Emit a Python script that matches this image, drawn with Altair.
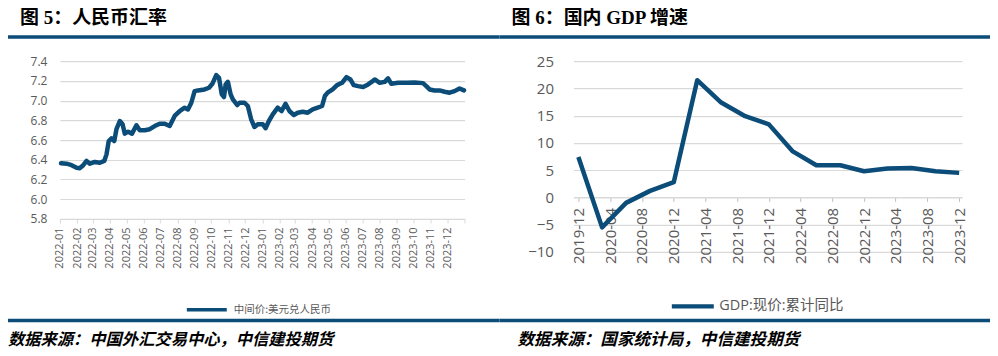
import altair as alt
import pandas as pd

# ---------------- data ----------------
fx_dates = [
    "2022-01-03", "2022-01-13", "2022-01-22", "2022-01-31", "2022-02-06", "2022-02-12",
    "2022-02-18", "2022-02-24", "2022-03-05", "2022-03-14", "2022-03-22", "2022-03-26",
    "2022-03-30", "2022-04-04", "2022-04-09", "2022-04-13", "2022-04-19", "2022-04-24",
    "2022-04-28", "2022-05-04", "2022-05-11", "2022-05-19", "2022-05-25", "2022-06-03",
    "2022-06-12", "2022-06-21", "2022-06-30", "2022-07-09", "2022-07-18", "2022-07-27",
    "2022-08-05", "2022-08-14", "2022-08-20", "2022-08-26", "2022-09-01", "2022-09-07",
    "2022-09-19", "2022-09-27", "2022-10-03", "2022-10-10", "2022-10-15", "2022-10-20",
    "2022-10-24", "2022-10-27", "2022-10-31", "2022-11-05", "2022-11-09", "2022-11-17",
    "2022-11-21", "2022-11-30", "2022-12-06", "2022-12-12", "2022-12-18", "2022-12-24",
    "2023-01-02", "2023-01-07", "2023-01-13", "2023-01-20", "2023-01-29", "2023-02-05",
    "2023-02-12", "2023-02-19", "2023-02-27", "2023-03-06", "2023-03-15", "2023-03-24",
    "2023-04-02", "2023-04-11", "2023-04-19", "2023-04-24", "2023-04-29", "2023-05-08",
    "2023-05-16", "2023-05-25", "2023-06-02", "2023-06-09", "2023-06-15", "2023-06-23",
    "2023-07-02", "2023-07-11", "2023-07-20", "2023-07-23", "2023-08-01", "2023-08-10",
    "2023-08-16", "2023-08-22", "2023-09-03", "2023-09-18", "2023-10-03", "2023-10-18",
    "2023-10-24", "2023-10-30", "2023-11-08", "2023-11-17", "2023-11-26", "2023-12-05",
    "2023-12-14", "2023-12-23", "2023-12-31",
]
fx_values = [
    6.365, 6.36, 6.345, 6.32, 6.315, 6.345,
    6.388, 6.36, 6.378, 6.37, 6.388, 6.455,
    6.59, 6.617, 6.59, 6.71, 6.793, 6.76,
    6.665, 6.685, 6.665, 6.75, 6.70, 6.70,
    6.71, 6.742, 6.766, 6.766, 6.742, 6.844,
    6.894, 6.928, 6.91, 6.978, 7.096, 7.103,
    7.113, 7.13, 7.17, 7.258, 7.23, 7.063,
    7.036, 7.164, 7.19, 7.063, 7.012, 6.955,
    6.978, 6.978, 6.945, 6.81, 6.732, 6.76,
    6.76, 6.72, 6.793, 6.86, 6.928, 6.894,
    6.968, 6.894, 6.854, 6.877, 6.887, 6.877,
    6.91, 6.928, 6.945, 7.046, 7.08, 7.113,
    7.157, 7.18, 7.238, 7.214, 7.157, 7.147,
    7.137, 7.164, 7.2, 7.214, 7.18, 7.19,
    7.225, 7.17, 7.18, 7.18, 7.184, 7.177,
    7.147, 7.113, 7.103, 7.103, 7.09, 7.08,
    7.096, 7.123, 7.103,
]
fx_series = "中间价:美元兑人民币"

gdp_months = [
    "2019-12", "2020-03", "2020-06", "2020-09", "2020-12", "2021-03", "2021-06",
    "2021-09", "2021-12", "2022-03", "2022-06", "2022-09", "2022-12", "2023-03",
    "2023-06", "2023-09", "2023-12",
]
gdp_values = [
    7.4, -5.5, -1.0, 1.2, 2.8, 21.5, 17.4,
    14.9, 13.4, 8.5, 5.9, 5.9, 4.8, 5.3,
    5.4, 4.8, 4.5,
]
gdp_series = "GDP:现价:累计同比"

fx_ticks = [
    "2022-01", "2022-02", "2022-03", "2022-04", "2022-05", "2022-06", "2022-07", "2022-08",
    "2022-09", "2022-10", "2022-11", "2022-12", "2023-01", "2023-02", "2023-03", "2023-04",
    "2023-05", "2023-06", "2023-07", "2023-08", "2023-09", "2023-10", "2023-11", "2023-12",
]
fx_y_ticks = [5.8, 6.0, 6.2, 6.4, 6.6, 6.8, 7.0, 7.2, 7.4]
gdp_ticks = [
    "2019-12", "2020-04", "2020-08", "2020-12", "2021-04", "2021-08", "2021-12",
    "2022-04", "2022-08", "2022-12", "2023-04", "2023-08", "2023-12",
]
gdp_y_ticks = [-10, -5, 0, 5, 10, 15, 20, 25]

title_left = "图 5：人民币汇率"
title_right = "图 6：国内 GDP 增速"
source_left = "数据来源：中国外汇交易中心，中信建投期货"
source_right = "数据来源：国家统计局，中信建投期货"

# ---------------- styles ----------------
BLUE = "#0b4c78"
GRID = "#d9d9d9"
LABEL = "#595959"
SANS = "'Open Sans', 'Noto Sans CJK SC', sans-serif"
TITLE_FONT = "'Liberation Serif', 'Noto Sans CJK SC', serif"
CJK = "'Noto Sans CJK SC', sans-serif"


def dt(s, day=1):
    y, m = s.split("-")[:2]
    return alt.DateTime(year=int(y), month=int(m), date=day, utc=True)


fx = pd.DataFrame({"date": fx_dates, "value": fx_values, "series": fx_series})
gdp = pd.DataFrame({"date": [m + "-01" for m in gdp_months], "value": gdp_values,
                    "series": gdp_series})
one = pd.DataFrame({"a": [0]})


def decorations(x0, x1, title, title_x, source, source_x, source_size):
    frame_top = alt.Chart(one).mark_rect(opacity=0).encode(
        x=alt.value(x0), x2=alt.value(x1), y=alt.value(-52), y2=alt.value(-51))
    frame_bottom = alt.Chart(one).mark_rect(opacity=0).encode(
        x=alt.value(x0), x2=alt.value(x1), y=alt.value(294), y2=alt.value(295))
    top_bar = alt.Chart(one).mark_rect(color=BLUE).encode(
        x=alt.value(x0), x2=alt.value(x1), y=alt.value(-26), y2=alt.value(-22.5))
    bottom_bar = alt.Chart(one).mark_rect(color=BLUE).encode(
        x=alt.value(x0), x2=alt.value(x1), y=alt.value(258), y2=alt.value(261.5))
    ttl = alt.Chart(one).mark_text(
        text=title, font=TITLE_FONT, fontSize=19, fontWeight="bold", align="left",
        baseline="alphabetic", color="black").encode(x=alt.value(title_x), y=alt.value(-37.5))
    src = alt.Chart(one).mark_text(
        text=source, font=CJK, fontSize=source_size, fontWeight="bold", fontStyle="italic",
        align="left", baseline="alphabetic", color="black").encode(
        x=alt.value(source_x), y=alt.value(284))
    return [frame_top, frame_bottom, top_bar, bottom_bar, ttl, src]


# ---------------- left panel ----------------
fx_line = alt.Chart(fx).mark_line(strokeWidth=4.5, strokeJoin="round", strokeCap="round").encode(
    x=alt.X("date:T",
            scale=alt.Scale(type="utc", domain=[dt("2022-01"), dt("2024-01")]),
            axis=alt.Axis(
                values=[dt(m) for m in fx_ticks] + [dt("2024-01")],
                labelExpr="utcyear(datum.value) > 2023 ? '' : utcFormat(datum.value, '%Y-%m')",
                labelAngle=270, labelFont=SANS, labelFontSize=11, labelColor=LABEL,
                labelPadding=4, tickSize=4, tickColor=GRID, domainColor=GRID,
                grid=False, title=None, labelOverlap=False)),
    y=alt.Y("value:Q",
            scale=alt.Scale(domain=[5.8, 7.4], zero=False, nice=False),
            axis=alt.Axis(values=fx_y_ticks, format=".1f", labelFont=SANS, labelFontSize=12,
                          labelColor=LABEL, labelPadding=13, ticks=False, domain=False,
                          gridColor=GRID, gridWidth=1.2, title=None)),
    color=alt.Color("series:N", scale=alt.Scale(range=[BLUE]),
                    legend=alt.Legend(orient="none", legendX=125, legendY=227,
                                      direction="horizontal", title=None,
                                      symbolType="stroke", symbolSize=1600,
                                      symbolStrokeWidth=3.5, labelFont=CJK,
                                      labelFontSize=10.5, labelColor=LABEL,
                                      labelOffset=5, padding=0)),
)

left = alt.layer(
    fx_line, *decorations(-52, 440, title_left, -40, source_left, -52, 16.3)
).properties(width=405, height=158)

# ---------------- right panel ----------------
gdp_line = alt.Chart(gdp).mark_line(strokeWidth=4.5, strokeJoin="round", strokeCap="butt").encode(
    x=alt.X("date:T",
            scale=alt.Scale(type="utc",
                            domain=[alt.DateTime(year=2019, month=11, date=12, utc=True),
                                    alt.DateTime(year=2023, month=12, date=12, utc=True)]),
            axis=alt.Axis(
                values=[dt(m) for m in gdp_ticks],
                labelExpr="utcFormat(datum.value, '%Y-%m')",
                labelAngle=270, labelFont=SANS, labelFontSize=15, labelColor=LABEL,
                labelPadding=6, tickSize=4, tickColor="#bfbfbf", domainColor=GRID,
                domainWidth=1.2, grid=False, title=None, offset=-54.6, labelOverlap=False)),
    y=alt.Y("value:Q",
            scale=alt.Scale(domain=[-10, 25], zero=False, nice=False),
            axis=alt.Axis(values=gdp_y_ticks, format="d", labelFont=SANS, labelFontSize=15,
                          labelColor=LABEL, labelPadding=20, ticks=False, domain=False,
                          gridColor=GRID, gridWidth=1.2, title=None)),
    color=alt.Color("series:N", scale=alt.Scale(range=[BLUE]),
                    legend=alt.Legend(orient="none", legendX=96, legendY=222,
                                      direction="horizontal", title=None,
                                      symbolType="stroke", symbolSize=1764,
                                      symbolStrokeWidth=4.5, labelFont=SANS,
                                      labelFontSize=14.5, labelColor=LABEL,
                                      labelOffset=3, padding=0)),
)

right = alt.layer(
    gdp_line, *decorations(-74, 417, title_right, -62, source_right, -56, 16.6)
).properties(width=389, height=191)

chart = alt.hconcat(left, right, spacing=0).resolve_scale(
    color="independent").resolve_legend(color="independent").properties(
    padding=0, background="white").configure_view(stroke=None)

chart.save("out.html", embed_options={"renderer": "svg", "actions": False})
